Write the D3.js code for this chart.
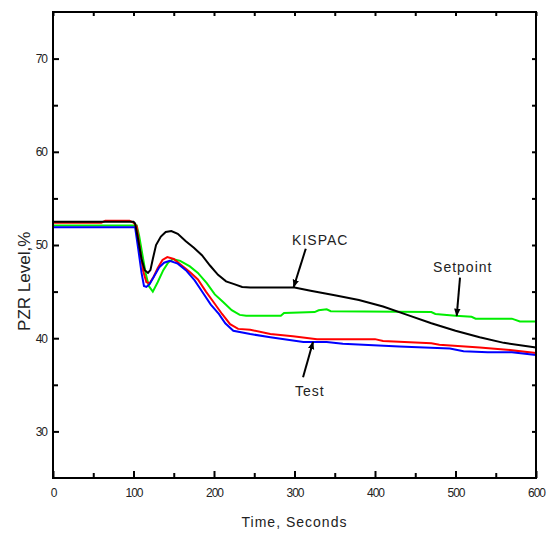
<!DOCTYPE html>
<html>
<head>
<meta charset="utf-8">
<script src="https://cdn.jsdelivr.net/npm/d3@7"></script>
<style>
  body { margin: 0; background: #fff; }
  svg { font-family: "Liberation Sans", Arial, sans-serif; }
</style>
</head>
<body>
<div id="chart-area"></div>
<script>
// data
var xMajor = [0, 100, 200, 300, 400, 500, 600];
var xMinor = [50, 150, 250, 350, 450, 550];
var yMajor = [30, 40, 50, 60, 70];
var yMinor = [35, 45, 55, 65];

var kispacT = [0,100,102,106,110,114,118,121,124,128,134,140,147,155,165,175,185,195,205,215,225,235,245,300,320,350,380,410,440,470,500,530,560,600];
var kispacV = [52.5,52.5,52.3,50.5,48.5,47.3,47.0,47.3,48.5,50.0,50.9,51.4,51.5,51.2,50.4,49.7,48.9,47.8,46.8,46.1,45.8,45.5,45.45,45.45,45.1,44.6,44.1,43.4,42.5,41.6,40.8,40.1,39.5,39.0];

var redT = [0,60,65,95,100,104,108,112,116,120,125,130,136,142,150,160,170,180,190,200,210,220,230,245,270,298,328,400,410,470,480,530,560,600];
var redV = [52.4,52.4,52.6,52.6,52.4,52.0,49.5,47.2,46.0,45.9,46.6,47.5,48.4,48.7,48.5,47.8,47.1,46.3,45.0,43.8,42.6,41.5,41.0,40.9,40.45,40.2,39.9,39.9,39.7,39.45,39.3,39.0,38.8,38.4];

var blueT = [0,102,106,110,113,116,120,126,132,138,145,155,165,176,186,196,206,214,224,245,270,311,340,360,430,493,510,540,570,600];
var blueV = [51.9,51.9,49.5,47.0,45.6,45.5,45.8,46.7,47.6,48.1,48.3,48.0,47.3,46.2,44.9,43.6,42.6,41.6,40.8,40.45,40.1,39.6,39.6,39.4,39.1,38.9,38.6,38.5,38.5,38.2];

var setT = [0,104,107,111,115,119,124,130,137,143,149,158,170,180,191,201,211,222,232,240,283,287,325,330,340,345,470,475,500,520,525,570,580,600];
var setV = [52.1,52.1,51.0,49.0,47.0,45.6,45.0,46.0,47.3,48.1,48.5,48.3,47.7,47.0,45.9,44.7,43.9,43.0,42.5,42.4,42.4,42.7,42.8,43.0,43.1,42.9,42.8,42.6,42.4,42.3,42.1,42.1,41.8,41.8];

// annotation labels and where their arrows point (time, level)
var noteText = ["KISPAC", "Setpoint", "Test"];
var notePos = [[332, 50.0], [509, 47.1], [319, 33.8]];
var arrowFrom = [[314, 49.6], [505.6, 46.5], [310.6, 35.8]];
var arrowTo = [[299, 45.5], [501.5, 42.4], [323, 39.6]];

var series = [
  { name: "setpoint", t: setT, v: setV, color: "#00ee00" },
  { name: "red", t: redT, v: redV, color: "#ff0000" },
  { name: "blue", t: blueT, v: blueV, color: "#0000ff" },
  { name: "kispac", t: kispacT, v: kispacV, color: "#000000" }
];

// dimensions
var margin = { top: 12, right: 15, bottom: 58, left: 53 };
var width = 551 - margin.left - margin.right,
    height = 536 - margin.top - margin.bottom;

var svg = d3.select("#chart-area").append("svg")
    .attr("width", 551)
    .attr("height", 536);
var g = svg.append("g")
    .attr("transform", "translate(" + margin.left + "," + margin.top + ")");

var x = d3.scaleLinear().domain([0, 600]).range([0, width]);
var y = d3.scaleLinear().domain([25, 75]).range([height, 0]);

function styleAxis(sel) {
  sel.select(".domain").remove();
  sel.selectAll(".tick line").attr("stroke", "#000").attr("stroke-width", 2);
  sel.selectAll(".tick text")
    .attr("fill", "#222")
    .style("font-size", "12px")
    .style("letter-spacing", "-1px");
}

// bottom axis
g.append("g").attr("transform", "translate(0," + height + ")")
  .call(d3.axisBottom(x).tickValues(xMajor).tickSize(-7).tickPadding(10))
  .call(styleAxis);
g.append("g").attr("transform", "translate(0," + height + ")")
  .call(d3.axisBottom(x).tickValues(xMinor).tickSize(-5).tickFormat(""))
  .call(styleAxis);
// top axis
g.append("g")
  .call(d3.axisTop(x).tickValues(xMajor.concat(xMinor)).tickSize(-4).tickFormat(""))
  .call(styleAxis);

// left axis
g.append("g")
  .call(d3.axisLeft(y).tickValues(yMajor).tickSize(-6).tickPadding(6))
  .call(styleAxis);
g.append("g")
  .call(d3.axisLeft(y).tickValues(yMinor).tickSize(-5).tickFormat(""))
  .call(styleAxis);
// right axis
g.append("g").attr("transform", "translate(" + width + ",0)")
  .call(d3.axisRight(y).tickValues(yMajor.concat(yMinor)).tickSize(-4).tickFormat(""))
  .call(styleAxis);

// lines
var line = d3.line()
  .x(function(d) { return x(d[0]); })
  .y(function(d) { return y(d[1]); });

series.forEach(function(s) {
  var pts = s.t.map(function(t, i) { return [t, s.v[i]]; });
  g.append("path")
    .datum(pts)
    .attr("fill", "none")
    .attr("stroke", s.color)
    .attr("stroke-width", 2)
    .attr("d", line);
});

// frame
g.append("rect")
  .attr("width", width)
  .attr("height", height)
  .attr("fill", "none")
  .attr("stroke", "#000")
  .attr("stroke-width", 2);

// axis titles
g.append("text")
  .attr("x", width / 2)
  .attr("y", height + 49)
  .attr("text-anchor", "middle")
  .style("font-size", "14px")
  .style("letter-spacing", "1px")
  .attr("fill", "#222")
  .text("Time, Seconds");

g.append("text")
  .attr("transform", "translate(-23," + y(46.1) + ") rotate(-90)")
  .attr("text-anchor", "middle")
  .style("font-size", "17px")
  .attr("fill", "#222")
  .text("PZR  Level,%");

// annotations
svg.append("defs").append("marker")
  .attr("id", "arrow")
  .attr("viewBox", "0 0 10 10")
  .attr("refX", 9).attr("refY", 5)
  .attr("markerWidth", 4).attr("markerHeight", 5)
  .attr("orient", "auto")
  .append("path").attr("d", "M0,1 L10,5 L0,9 Z").attr("fill", "#000");

noteText.forEach(function(txt, i) {
  g.append("text")
    .attr("x", x(notePos[i][0]))
    .attr("y", y(notePos[i][1]))
    .attr("text-anchor", "middle")
    .style("font-size", "14px")
    .style("letter-spacing", "1px")
    .attr("fill", "#222")
    .text(txt);
  g.append("line")
    .attr("x1", x(arrowFrom[i][0])).attr("y1", y(arrowFrom[i][1]))
    .attr("x2", x(arrowTo[i][0])).attr("y2", y(arrowTo[i][1]))
    .attr("stroke", "#000")
    .attr("stroke-width", 2)
    .attr("marker-end", "url(#arrow)");
});
</script>
</body>
</html>
